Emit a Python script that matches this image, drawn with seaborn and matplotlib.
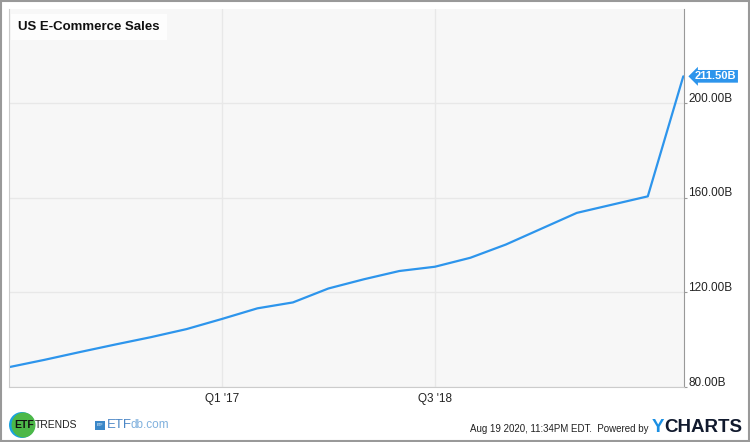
import matplotlib
matplotlib.use("Agg")
import matplotlib.pyplot as plt
import matplotlib.transforms as mtransforms
from matplotlib.patches import Ellipse, Rectangle
import numpy as np
import pandas as pd
import seaborn as sns

# quarterly sales, Q3 2015 .. Q2 2020, in billions USD
quarters = [
    "Q3 '15", "Q4 '15", "Q1 '16", "Q2 '16", "Q3 '16", "Q4 '16",
    "Q1 '17", "Q2 '17", "Q3 '17", "Q4 '17", "Q1 '18", "Q2 '18",
    "Q3 '18", "Q4 '18", "Q1 '19", "Q2 '19", "Q3 '19", "Q4 '19",
    "Q1 '20", "Q2 '20",
]
sales = [
    88.4, 91.5, 94.8, 98.0, 101.1, 104.5,
    108.8, 113.3, 115.8, 121.7, 125.6, 129.1,
    130.9, 134.7, 140.3, 147.0, 153.7, 157.2,
    160.7, 211.5,
]
x_tick_labels = ["Q1 '17", "Q3 '18"]
y_ticks = [80, 120, 160, 200]

BLUE = "#2d95ec"
GRID = "#e8e8e8"

df = pd.DataFrame({"quarter": quarters, "sales": sales})
df["idx"] = np.arange(len(df))

sns.set_style("white")
plt.rcParams["font.family"] = ["Liberation Sans", "DejaVu Sans"]

W, H = 750, 442


def fx(px):
    return px / W


def fy(py):
    return 1 - py / H


fig = plt.figure(figsize=(7.5, 4.42), dpi=100)
ax = fig.add_axes([fx(9), fy(387), 675 / W, 378 / H])
ax.set_facecolor("#f7f7f7")

sns.lineplot(data=df, x="idx", y="sales", color=BLUE, linewidth=1.6, ax=ax)

ax.set_xlim(0, len(df) - 0.98)
ax.set_ylim(80.7, 240)
tick_pos = [quarters.index(q) for q in x_tick_labels]
ax.set_xticks(tick_pos)
ax.set_xticklabels(x_tick_labels, fontsize=8.5, color="#222222")
ax.set_yticks(y_ticks)
ax.set_yticklabels([f"{v:.2f}B" for v in y_ticks], fontsize=8.5, color="#222222")
ax.yaxis.tick_right()
ax.tick_params(axis="x", length=0, pad=4)
ax.tick_params(axis="y", length=2, color="#999999", pad=1)
offset = mtransforms.ScaledTranslation(0, 6 / 100, fig.dpi_scale_trans)
for lbl in ax.get_yticklabels():
    lbl.set_transform(lbl.get_transform() + offset)
ax.grid(True, color=GRID, linewidth=1)
ax.set_xlabel("")
ax.set_ylabel("")
for side in ["left", "bottom"]:
    ax.spines[side].set_color("#cccccc")
ax.spines["top"].set_visible(False)
ax.spines["right"].set_color("#999999")

# title box
ax.text(0.013, 0.968, "US E-Commerce Sales", transform=ax.transAxes,
        fontsize=9.5, fontweight="bold", color="#111111", va="top", ha="left",
        bbox=dict(boxstyle="square,pad=0.55", facecolor="#fdfdfd", edgecolor="none"))

# last value flag
last = sales[-1]
ax.annotate(f"{last:.2f}B", xy=(1.0, last), xycoords=("axes fraction", "data"),
            xytext=(8, 0), textcoords="offset points", fontsize=8,
            fontweight="bold", color="white", va="center", ha="left",
            bbox=dict(boxstyle="larrow,pad=0.12", facecolor=BLUE, edgecolor="none"))

# footer: ETF Trends
fig.add_artist(Ellipse((fx(22), fy(425)), 26 / W, 26 / H, transform=fig.transFigure,
                       facecolor="#1aa3e0", edgecolor="none"))
fig.add_artist(Ellipse((fx(23.5), fy(425)), 24 / W, 25 / H, transform=fig.transFigure,
                       facecolor="#4cb848", edgecolor="none"))
etf = fig.text(fx(14), fy(425), "ETF", fontsize=7.5, fontweight="bold", color="#111111", va="center")
fig.canvas.draw()
plt.annotate("TRENDS", xy=(1, 0.5), xycoords=etf, xytext=(1, 0), textcoords="offset points",
             va="center", ha="left", fontsize=7.5, color="#222222", annotation_clip=False)

# footer: ETFdb
fig.add_artist(Rectangle((fx(95), fy(429.5)), 10 / W, 9 / H, transform=fig.transFigure,
                         facecolor="#3a87c8", edgecolor="none"))
fig.text(fx(100), fy(425), "ETF", fontsize=2.5, color="white", va="center", ha="center")
db = fig.text(fx(107), fy(425), "ETF", fontsize=9.5, color="#4a86c5", va="center")
fig.canvas.draw()
plt.annotate("db.com", xy=(1, 0.5), xycoords=db, xytext=(-1, 0), textcoords="offset points",
             va="center", ha="left", fontsize=8.5, color="#7fb0dd", annotation_clip=False)

# footer: timestamp and YCharts
fig.text(fx(648), fy(429), "Aug 19 2020, 11:34PM EDT.  Powered by", fontsize=7,
         color="#222222", va="center", ha="right")
y_txt = fig.text(fx(652), fy(428), "Y", fontsize=13.5, fontweight="bold", color="#1a8fe3", va="center")
fig.canvas.draw()
plt.annotate("CHARTS", xy=(1, 0.5), xycoords=y_txt, va="center", ha="left",
             fontsize=13.5, fontweight="bold", color="#111a2e", annotation_clip=False)

fig.add_artist(Rectangle((0.001, 0.002), 0.998, 0.996, transform=fig.transFigure,
                         facecolor="none", edgecolor="#999999", linewidth=1.5))

fig.savefig("out.png", dpi=100)
